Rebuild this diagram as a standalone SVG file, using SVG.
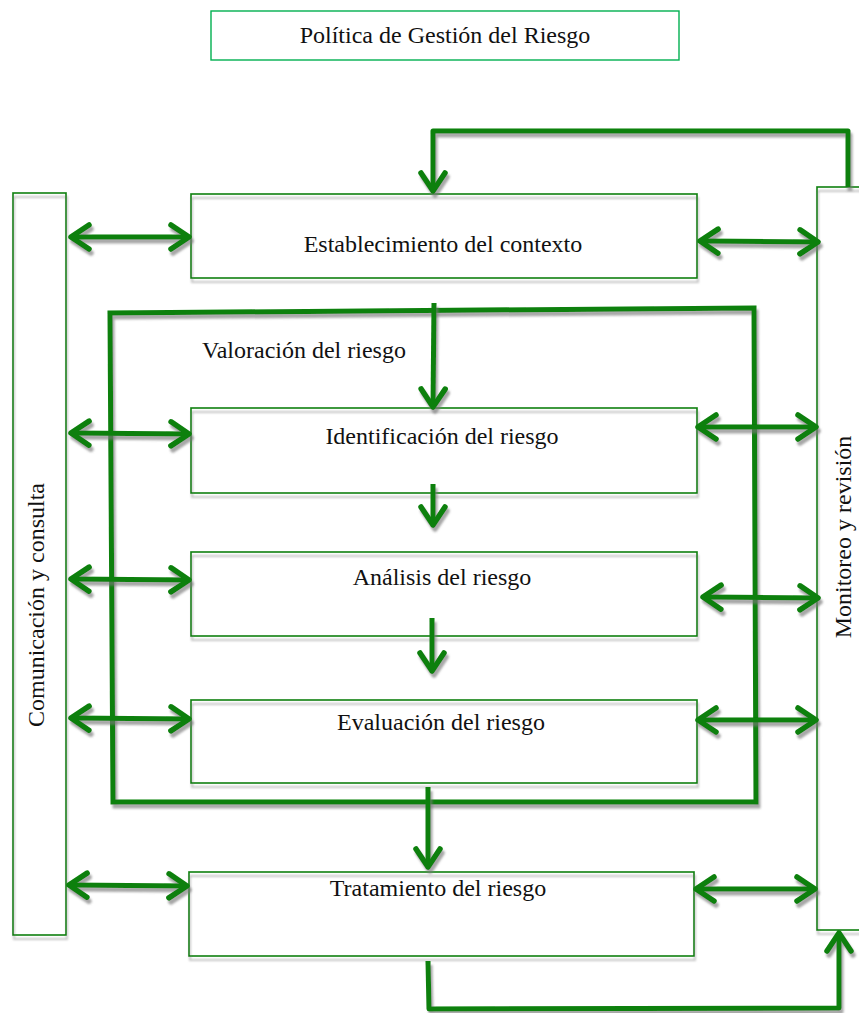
<svg xmlns="http://www.w3.org/2000/svg" width="859" height="1013" viewBox="0 0 859 1013">
  <defs>
    <style>
      .box { fill: none; stroke: #0a800a; stroke-width: 1.6; }
      .lbl { font-family: "Liberation Serif", "Times New Roman", serif; font-size: 24px; fill: #111; }
      .mid { text-anchor: middle; }
      .con { fill: none; stroke: #0a800a; stroke-width: 5; stroke-linejoin: round; }
      .frame { fill: none; stroke: #0a800a; stroke-width: 5; stroke-linejoin: miter; }
    </style>
    <filter id="sh" x="-5%" y="-5%" width="115%" height="115%">
      <feDropShadow dx="1" dy="4" stdDeviation="1" flood-color="#888" flood-opacity="0.6"/>
    </filter>
    <filter id="shc" x="-10%" y="-10%" width="130%" height="130%">
      <feDropShadow dx="2" dy="4" stdDeviation="1.2" flood-color="#777" flood-opacity="0.65"/>
    </filter>
    <marker id="ah" viewBox="-25 -16 30 32" refX="0" refY="0" markerWidth="30" markerHeight="32" markerUnits="userSpaceOnUse" orient="auto-start-reverse">
      <path d="M-18,-12 L0,0 L-18,12" fill="none" stroke="#0a800a" stroke-width="5.5" stroke-linecap="round" stroke-linejoin="round"/>
    </marker>
  </defs>

  <rect width="859" height="1013" fill="#fff"/>

  <g id="politica">
    <rect x="211" y="11" width="468" height="49" fill="none" stroke="#00b050" stroke-width="1.4"/>
    <text class="lbl mid" x="445" y="43">Política de Gestión del Riesgo</text>
  </g>

  <g id="comunicacion" filter="url(#sh)">
    <rect class="box" x="13" y="193" width="53" height="742"/>
  </g>
  <text class="lbl mid" transform="translate(44,605) rotate(-90)">Comunicación y consulta</text>

  <g id="monitoreo" filter="url(#sh)">
    <rect class="box" x="817" y="187" width="60" height="743"/>
  </g>
  <text class="lbl mid" transform="translate(851,537) rotate(-90)">Monitoreo y revisión</text>

  <g id="establecimiento">
    <rect class="box" x="191" y="194" width="506" height="84" filter="url(#sh)"/>
    <text class="lbl mid" x="443" y="252">Establecimiento del contexto</text>
  </g>

  <g id="valoracion">
    <polygon class="frame" points="110,313 754,308 756,802 113,802" filter="url(#shc)"/>
    <text class="lbl" x="202" y="358">Valoración del riesgo</text>
  </g>

  <g id="identificacion">
    <rect class="box" x="191" y="408" width="506" height="85" filter="url(#sh)"/>
    <text class="lbl mid" x="442" y="444">Identificación del riesgo</text>
  </g>

  <g id="analisis">
    <rect class="box" x="191" y="552" width="506" height="84" filter="url(#sh)"/>
    <text class="lbl mid" x="442" y="585">Análisis del riesgo</text>
  </g>

  <g id="evaluacion">
    <rect class="box" x="191" y="700" width="506" height="83" filter="url(#sh)"/>
    <text class="lbl mid" x="441" y="730">Evaluación del riesgo</text>
  </g>

  <g id="tratamiento">
    <rect class="box" x="189" y="872" width="505" height="84" filter="url(#sh)"/>
    <text class="lbl mid" x="438" y="896">Tratamiento del riesgo</text>
  </g>

  <g id="connectors" filter="url(#shc)">
    <path class="con" d="M848,187 L848,131 L433,131 L433,191" marker-end="url(#ah)"/>
    <path class="con" d="M71,237 L189,237" marker-start="url(#ah)" marker-end="url(#ah)"/>
    <path class="con" d="M71,433 L189,434" marker-start="url(#ah)" marker-end="url(#ah)"/>
    <path class="con" d="M71,579 L189,580" marker-start="url(#ah)" marker-end="url(#ah)"/>
    <path class="con" d="M71,718 L189,719" marker-start="url(#ah)" marker-end="url(#ah)"/>
    <path class="con" d="M69,885 L187,886" marker-start="url(#ah)" marker-end="url(#ah)"/>
    <path class="con" d="M700,241 L818,242" marker-start="url(#ah)" marker-end="url(#ah)"/>
    <path class="con" d="M698,427 L816,427" marker-start="url(#ah)" marker-end="url(#ah)"/>
    <path class="con" d="M703,597 L818,598" marker-start="url(#ah)" marker-end="url(#ah)"/>
    <path class="con" d="M698,720 L816,720" marker-start="url(#ah)" marker-end="url(#ah)"/>
    <path class="con" d="M696,889 L815,889" marker-start="url(#ah)" marker-end="url(#ah)"/>
    <path class="con" d="M434,303 L433,407" marker-end="url(#ah)"/>
    <path class="con" d="M433,484 L433,525" marker-end="url(#ah)"/>
    <path class="con" d="M432,618 L432,671" marker-end="url(#ah)"/>
    <path class="con" d="M428,787 L428,867" marker-end="url(#ah)"/>
    <path class="con" d="M428,961 L429,1009 L839,1008 L839,933" marker-end="url(#ah)"/>
  </g>
</svg>
